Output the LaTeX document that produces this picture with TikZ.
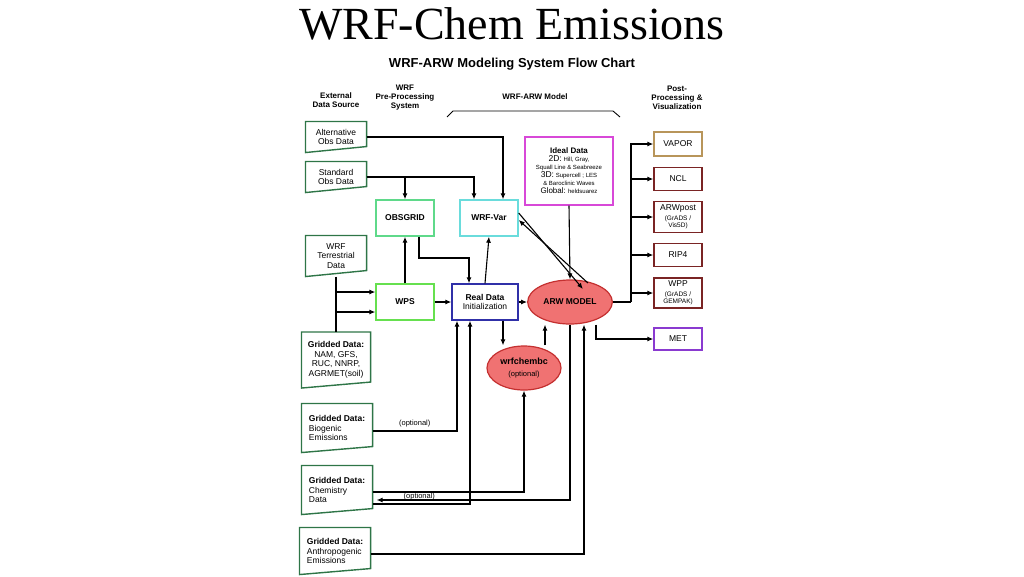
\documentclass[tikz,border=0pt]{standalone}
\usepackage{fontspec}
\setmainfont{Liberation Sans}
\newfontfamily\titlefont{Liberation Serif}
\usetikzlibrary{arrows.meta,shapes.geometric}
\definecolor{srcgreen}{HTML}{2E7547}
\definecolor{obsgreen}{HTML}{5FD98A}
\definecolor{wpsgreen}{HTML}{66E04F}
\definecolor{varcyan}{HTML}{6ADCDC}
\definecolor{realblue}{HTML}{3030A8}
\definecolor{idealpink}{HTML}{D848D8}
\definecolor{modelred}{HTML}{F07272}
\definecolor{modeledge}{HTML}{C43030}
\definecolor{vaportan}{HTML}{B8955A}
\definecolor{postred}{HTML}{7A2424}
\definecolor{metpurple}{HTML}{8A3AD0}
\begin{document}
\begin{tikzpicture}[x=1pt,y=-1pt,line width=1.1pt,
    >={Latex[length=6pt,width=5pt]},
    src/.style={align=center,font=\fontsize{8.5}{9.5}\selectfont,inner sep=1pt},
    box/.style={draw,line width=1.4pt,fill=white,align=center,font=\fontsize{8.5}{9.5}\selectfont},
    post/.style={box,draw=postred,minimum width=48pt},
    model/.style={ellipse,draw=modeledge,fill=modelred,line width=1.2pt,align=center},
    head/.style={align=center,font=\bfseries\fontsize{8}{9}\selectfont}]
  \useasboundingbox (0,0) rectangle (1024,576);

  % titles
  \node (title) at (512,24) [font=\titlefont\fontsize{46}{46}\selectfont] {WRF-Chem Emissions};
  \node (sub) at (512,64) [font=\bfseries\fontsize{13}{13}\selectfont] {WRF-ARW Modeling System Flow Chart};
  \node (hsrc) at (336,100) [head] {External\\Data Source};
  \node (hpre) at (405,98) [head] {WRF\\Pre-Processing\\System};
  \node (harw) at (535,97) [head] {WRF-ARW Model};
  \node (hpost) at (677,98) [head] {Post-\\Processing \&\\Visualization};
  \draw[line width=0.9pt] (447,117) -- (453,111) -- (613,111) -- (620,117);

  % external data sources
  \node (alt) at (336,137) [src,minimum width=60pt,minimum height=30pt] {Alternative\\Obs Data};
  \node (std) at (336,177) [src,minimum width=60pt,minimum height=30pt] {Standard\\Obs Data};
  \node (terr) at (336,256) [src,minimum width=60pt,minimum height=40pt] {WRF\\Terrestrial\\Data};
  \node (grid) at (336,360) [src,minimum width=68pt,minimum height=55pt] {\textbf{Gridded Data:}\\NAM, GFS,\\RUC, NNRP,\\AGRMET(soil)};
  \node (bio) at (337,428) [src,minimum width=70pt,minimum height=48pt,align=left] {\textbf{Gridded Data:}\\Biogenic\\Emissions};
  \node (chem) at (337,490) [src,minimum width=70pt,minimum height=48pt,align=left] {\textbf{Gridded Data:}\\Chemistry\\Data};
  \node (anth) at (335,551) [src,minimum width=70pt,minimum height=46pt,align=left] {\textbf{Gridded Data:}\\Anthropogenic\\Emissions};
  \foreach \n in {alt,std,terr,grid,bio,chem,anth}
    \draw[srcgreen,line width=1.4pt] (\n.north west) -- (\n.north east)
      -- ([shift={(0,-6)}]\n.south east) -- (\n.south west) -- cycle;

  % pre-processing and model
  \node (obsgrid) at (405,218) [box,draw=obsgreen,minimum width=58pt,minimum height=36pt] {\textbf{OBSGRID}};
  \node (var) at (489,218) [box,draw=varcyan,minimum width=58pt,minimum height=36pt] {\textbf{WRF-Var}};
  \node (wps) at (405,302) [box,draw=wpsgreen,minimum width=58pt,minimum height=36pt] {\textbf{WPS}};
  \node (real) at (485,302) [box,draw=realblue,minimum width=66pt,minimum height=36pt] {\textbf{Real Data}\\Initialization};
  \node (ideal) at (569,171) [box,draw=idealpink,minimum width=88pt,minimum height=68pt,inner sep=1pt,font=\fontsize{6}{8}\selectfont]
    {{\fontsize{8}{8}\selectfont\textbf{Ideal Data}}\\{\fontsize{8.5}{8}\selectfont 2D:} Hill, Gray,\\Squall Line \& Seabreeze\\{\fontsize{8.5}{8}\selectfont 3D:} Supercell ; LES\\\& Baroclinic Waves\\{\fontsize{8}{8}\selectfont Global:} heldsuarez};
  \node (arw) at (570,302) [model,minimum width=80pt,minimum height=44pt,font=\bfseries\fontsize{8.5}{9}\selectfont] {ARW MODEL};
  \node (bc) at (524,368) [model,minimum width=74pt,minimum height=44pt,inner sep=0pt] {{\bfseries\fontsize{9}{10}\selectfont wrfchembc}\\{\fontsize{7.5}{8}\selectfont (optional)}};

  % post-processing
  \node (vapor) at (678,144) [post,draw=vaportan,minimum height=24pt] {VAPOR};
  \node (ncl) at (678,179) [post,minimum height=23pt] {NCL};
  \node (arwpost) at (678,217) [post,minimum height=31pt,inner sep=1pt] {ARWpost\\{\fontsize{6.5}{7}\selectfont (GrADS /}\\[-2pt]{\fontsize{6.5}{7}\selectfont Vis5D)}};
  \node (rip) at (678,255) [post,minimum height=23pt] {RIP4};
  \node (wpp) at (678,293) [post,minimum height=30pt,inner sep=1pt] {WPP\\{\fontsize{6.5}{7}\selectfont (GrADS /}\\[-2pt]{\fontsize{6.5}{7}\selectfont GEMPAK)}};
  \node (met) at (678,339) [post,draw=metpurple,minimum height=22pt] {MET};
  \coordinate (trunk) at (631,302);

  % connectors
  \draw[->] (alt.east) -| ([xshift=14]var.north);
  \draw[->] (std.east) -| (obsgrid.north);
  \draw[->] (std.east) -| ([xshift=-15]var.north);
  \draw[->] ([xshift=14]obsgrid.south) |- (420,258) -| ([xshift=-16]real.north);
  \draw[->] (wps.north) -- (obsgrid.south);
  \draw[->] (real.north) -- (var.south);
  \draw[->] ([yshift=5]var.east) -- ([shift={(-30,-13)}]arw.east);
  \draw[->] ([shift={(-25,-19)}]arw.east) -- ([yshift=-2]var.east);
  \draw[->] (ideal.south) -- (arw.north);
  \draw[->] (terr.south) |- ([yshift=-10]wps.west);
  \draw[->] (grid.north) |- ([yshift=10]wps.west);
  \draw[->] (wps.east) -- (real.west);
  \draw[->] (real.east) -- (arw.west);
  \draw[->] ([xshift=18]real.south) -- ([xshift=-21]bc.north);
  \draw[->] ([xshift=21]bc.north) -- ([xshift=-25]arw.south);
  \draw[->] ([yshift=-3]bio.east) -| ([xshift=-28]real.south) node[pos=0.25,above,font=\fontsize{7.5}{8}\selectfont] {(optional)};
  \draw[->] ([yshift=-14]chem.east) -| ([xshift=-15]real.south) node[pos=0.24,above,font=\fontsize{7.5}{8}\selectfont] {(optional)};
  \draw[->] ([yshift=-2]chem.east) -| (bc.south);
  \draw[->] (arw.south) |- ([shift={(4,10)}]chem.east);
  \draw[->] ([yshift=-3]anth.east) -| ([xshift=14]arw.south);
  \draw (arw.east) -- (trunk);
  \foreach \p in {vapor,ncl,arwpost,rip,wpp}
    \draw[->] (trunk) |- (\p.west);
  \draw[->] ([xshift=26]arw.south) |- (met.west);
\end{tikzpicture}
\end{document}
